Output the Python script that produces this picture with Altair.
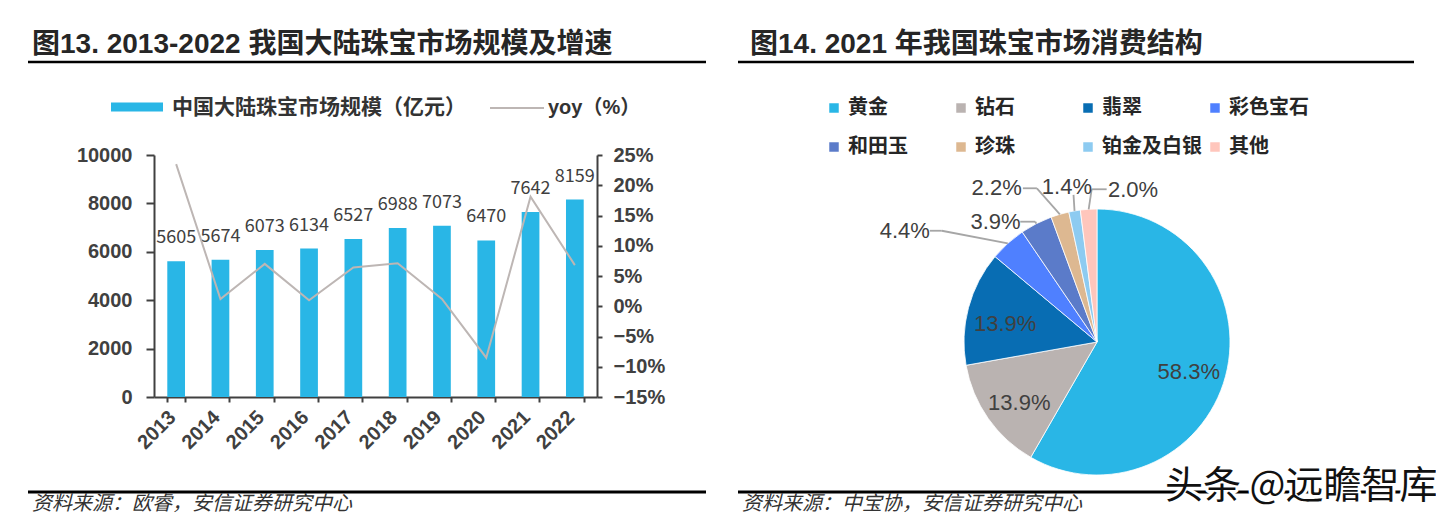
import math
import altair as alt
import pandas as pd

# ---------------- data ----------------
years = ["2013", "2014", "2015", "2016", "2017", "2018", "2019", "2020", "2021", "2022"]
market_size = [5605, 5674, 6073, 6134, 6527, 6988, 7073, 6470, 7642, 8159]
yoy = [23.5, 1.2, 7.0, 1.0, 6.4, 7.1, 1.2, -8.5, 18.1, 6.8]
size_ticks = [0, 2000, 4000, 6000, 8000, 10000]
yoy_ticks = [-15, -10, -5, 0, 5, 10, 15, 20, 25]

pie_cats = ["黄金", "钻石", "翡翠", "彩色宝石", "和田玉", "珍珠", "铂金及白银", "其他"]
pie_values = [58.3, 13.9, 13.9, 4.4, 3.9, 2.2, 1.4, 2.0]
pie_colors = ["#29B6E6", "#BAB3B1", "#086DB3", "#4F80FF", "#5B7BC9", "#DDB891", "#8DCBF1", "#FFC6BC"]

title_left = "图13. 2013-2022 我国大陆珠宝市场规模及增速"
title_right = "图14. 2021 年我国珠宝市场消费结构"
legend_bar = "中国大陆珠宝市场规模（亿元）"
legend_line = "yoy（%）"
source_left = "资料来源：欧睿，安信证券研究中心"
source_right = "资料来源：中宝协，安信证券研究中心"
watermark = "头条 @远瞻智库"

# ---------------- layout (pixels, plot coordinates) ----------------
W, H = 1428, 507
PL, PR, PT, PB = 146, 589, 147, 389
CX, CY, R = 1089, 334, 133
INNER_R = 95

CJK = "Noto Sans CJK SC"
MIX = "Liberation Sans, Noto Sans CJK SC"
NUM = "Liberation Sans"
NARROW = "Liberation Sans Narrow, Liberation Sans"
AX = "#404040"

# leader line layout for the small slices, offsets from the slice's edge point
leader_layout = {
    "彩色宝石": (-66, -12.6, -78, -12.6, -103, -12.6),
    "和田玉": (-1, -2, -16, -2, -40.7, -2),
    "珍珠": (-23, -26, -37, -26, -63.2, -26),
    "铂金及白银": (-1, -16, -1, -16, -7.6, -24.2),
    "其他": (3, -20, 18, -20, 44.4, -19.3),
}

# ---------------- left chart ----------------
bar_df = pd.DataFrame({"year": years, "size": market_size, "yoy": yoy})

x_enc = alt.X(
    "year:N", sort=years, title=None,
    scale=alt.Scale(domain=years, range=[PL, PR], paddingInner=0.6, paddingOuter=0.3),
    axis=alt.Axis(
        orient="bottom", offset=PB - H, labelAngle=-45, labelAlign="right",
        labelBaseline="middle", labelFont=NUM, labelFontSize=20, labelFontWeight="bold",
        labelColor=AX, labelPadding=12, labelOffset=-4, tickBand="extent", tickSize=5,
        tickWidth=2, tickColor=AX, domainColor=AX, domainWidth=2, grid=False,
    ),
)

size_scale = alt.Scale(domain=[0, 10000], range=[PB, PT], nice=False, zero=True)

bars = alt.Chart(bar_df).mark_bar(color="#29B6E6").encode(
    x=x_enc,
    y=alt.Y(
        "size:Q", scale=size_scale, title=None,
        axis=alt.Axis(
            orient="left", offset=-PL, values=size_ticks, labelFont=NUM, labelFontSize=20,
            labelFontWeight="bold", labelColor=AX, labelPadding=14, tickSize=8, tickWidth=2,
            tickColor=AX, domainColor=AX, domainWidth=2, grid=False, format="d",
        ),
    ),
)

bar_labels = alt.Chart(bar_df).mark_text(
    baseline="alphabetic", dy=-18, font=CJK, fontSize=18, color=AX
).encode(
    x=x_enc,
    y=alt.Y("size:Q", scale=size_scale, axis=None),
    text=alt.Text("size:Q", format="d"),
)

line = alt.Chart(bar_df).mark_line(color="#BDB6B4", strokeWidth=2).encode(
    x=x_enc,
    y=alt.Y(
        "yoy:Q", title=None,
        scale=alt.Scale(domain=[-15, 25], range=[PB, PT], nice=False, zero=False),
        axis=alt.Axis(
            orient="right", offset=PR - W, values=yoy_ticks, labelFont=NUM, labelFontSize=20,
            labelFontWeight="bold", labelColor=AX, labelPadding=11, tickSize=5, tickWidth=2,
            tickColor=AX, domainColor=AX, domainWidth=2, grid=False,
            labelExpr="format(datum.value, 'd') + '%'",
        ),
    ),
)

# ---------------- pie ----------------
pie_df = pd.DataFrame({"cat": pie_cats, "value": pie_values, "order": list(range(len(pie_cats)))})
pie_df["inner"] = [f"{v:.1f}%" if v >= 10 else "" for v in pie_values]

arc = alt.Chart(pie_df).mark_arc(outerRadius=R, stroke="white", strokeWidth=0.8).encode(
    theta=alt.Theta("value:Q", stack=True),
    color=alt.Color(
        "cat:N",
        scale=alt.Scale(domain=pie_cats, range=pie_colors),
        legend=alt.Legend(
            orient="none", legendX=816, legendY=90, direction="horizontal", columns=4,
            symbolType="square", symbolSize=90, symbolStrokeWidth=0, labelFont=CJK,
            labelFontSize=20, labelFontWeight="bold", labelColor="#262626", labelOffset=4,
            columnPadding=3, rowPadding=19, gridAlign="all", title=None, labelLimit=300,
            padding=0,
        ),
    ),
    order=alt.Order("order:Q"),
    x=alt.value(CX),
    y=alt.value(CY),
)

inner_text = alt.Chart(pie_df).mark_text(
    radius=INNER_R, font=NARROW, fontSize=22, color=AX, dy=6
).encode(
    theta=alt.Theta("value:Q", stack=True),
    detail="cat:N",
    order=alt.Order("order:Q"),
    text="inner:N",
    x=alt.value(CX),
    y=alt.value(CY),
)

lead_df = pie_df[["cat", "value", "order"]].copy()
for i, key in enumerate(["e1x", "e1y", "e2x", "e2y", "lx", "ly"]):
    lead_df[key] = [leader_layout[c][i] if c in leader_layout else None for c in pie_cats]

lead_base = alt.Chart(lead_df).transform_joinaggregate(
    total="sum(value)"
).transform_window(
    cum="sum(value)", sort=[alt.SortField("order")]
).transform_calculate(
    mid="(datum.cum - datum.value / 2) / datum.total * 2 * PI",
).transform_calculate(
    ex=f"{CX} + {R} * sin(datum.mid)",
    ey=f"{CY} - {R} * cos(datum.mid)",
).transform_filter(
    "isValid(datum.lx)"
).transform_calculate(
    ax="datum.ex + datum.e1x", ay="datum.ey + datum.e1y",
    bx="datum.ex + datum.e2x", by="datum.ey + datum.e2y",
    tx="datum.ex + datum.lx", ty="datum.ey + datum.ly",
    lab="format(datum.value, '.1f') + '%'",
)

lead1 = lead_base.mark_rule(color="#A6A6A6", strokeWidth=1.8).encode(
    x=alt.X("ex:Q", scale=None), y=alt.Y("ey:Q", scale=None),
    x2="ax:Q", y2="ay:Q",
)
lead2 = lead_base.mark_rule(color="#A6A6A6", strokeWidth=1.8).encode(
    x=alt.X("ax:Q", scale=None), y=alt.Y("ay:Q", scale=None),
    x2="bx:Q", y2="by:Q",
)
outer_text = lead_base.mark_text(font=NARROW, fontSize=22, color=AX, baseline="middle").encode(
    x=alt.X("tx:Q", scale=None), y=alt.Y("ty:Q", scale=None), text="lab:N",
)

# ---------------- annotations ----------------
def txt(s, x, y, **kw):
    return alt.Chart(pd.DataFrame({"t": [s]})).mark_text(
        align=kw.pop("align", "left"), baseline="middle", **kw
    ).encode(x=alt.value(x), y=alt.value(y), text="t:N")


def hrule(x1, x2, y, w=2.5, color="black"):
    return alt.Chart(pd.DataFrame({"a": [0]})).mark_rule(color=color, strokeWidth=w).encode(
        x=alt.value(x1), x2=alt.value(x2), y=alt.value(y)
    )


annots = [
    txt(title_left, 24, 37, font=MIX, fontSize=28, fontWeight="bold", color="#262626"),
    txt(title_right, 742, 37, font=MIX, fontSize=28, fontWeight="bold", color="#262626"),
    hrule(20, 698, 54),
    hrule(730, 1406, 54),
    hrule(20, 698, 484, w=3),
    hrule(730, 1406, 484, w=3),
    txt(source_left, 24, 496, font=CJK, fontSize=20, fontStyle="italic", color="#333333"),
    txt(source_right, 734, 496, font=CJK, fontSize=20, fontStyle="italic", color="#333333"),
    alt.Chart(pd.DataFrame({"a": [0]})).mark_rect(color="#29B6E6").encode(
        x=alt.value(103), x2=alt.value(155), y=alt.value(94.5), y2=alt.value(103.5)
    ),
    txt(legend_bar, 164, 100, font=MIX, fontSize=21, fontWeight="bold", color="#333333"),
    hrule(482, 536, 100, w=2, color="#BDB6B4"),
    txt(legend_line, 540, 100, font=MIX, fontSize=20, fontWeight="bold", color="#333333"),
    txt(watermark, 1157, 479, font=CJK, fontSize=38, color="white", stroke="white",
        strokeWidth=6, strokeJoin="round"),
    txt(watermark, 1157, 479, font=CJK, fontSize=38, color="#111111"),
]

chart = alt.layer(
    bars, bar_labels, line, arc, inner_text, lead1, lead2, outer_text, *annots
).resolve_scale(
    y="independent"
).properties(
    width=W, height=H, autosize=alt.AutoSizeParams(type="none"), padding=0,
    background="white",
).configure_view(strokeWidth=0)

chart.save("out.html", embed_options={"renderer": "svg", "actions": False})
